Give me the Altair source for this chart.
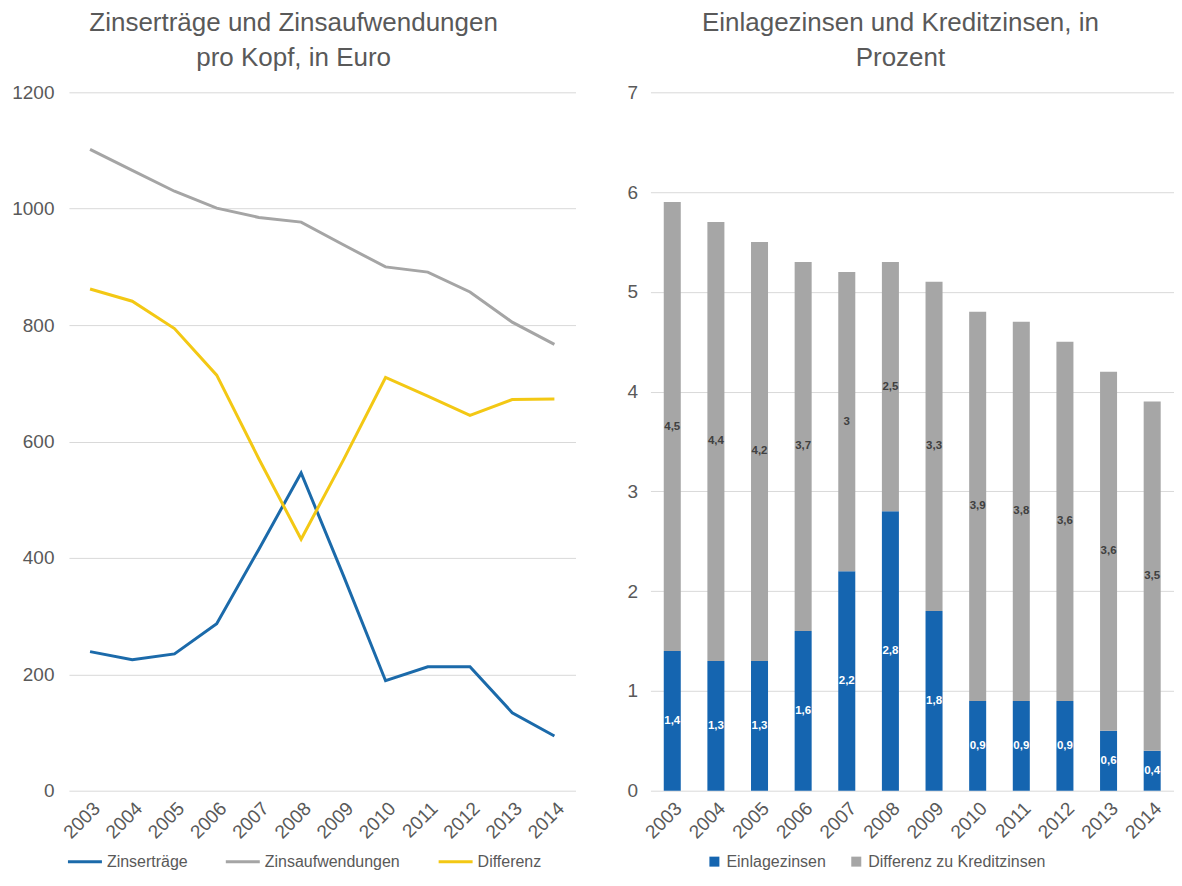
import altair as alt
import pandas as pd

FONT = "Liberation Sans"
TXT = "#595959"

years = ["2003", "2004", "2005", "2006", "2007", "2008", "2009", "2010", "2011", "2012", "2013", "2014"]

# left panel: Euro per head
zinsertraege = [239, 225, 235, 287, 415, 546, 370, 189, 213, 213, 134, 94]
zinsaufwendungen = [1102, 1066, 1030, 1001, 985, 977, 938, 900, 891, 857, 805, 767]
differenz = [862, 841, 794, 714, 570, 432, 568, 710, 678, 645, 672, 673]
line_series = ["Zinserträge", "Zinsaufwendungen", "Differenz"]
line_colors = ["#1B6AAA", "#A5A5A5", "#F3C814"]

# right panel: percent
einlagezinsen = [1.4, 1.3, 1.3, 1.6, 2.2, 2.8, 1.8, 0.9, 0.9, 0.9, 0.6, 0.4]
diff_kredit = [4.5, 4.4, 4.2, 3.7, 3.0, 2.5, 3.3, 3.9, 3.8, 3.6, 3.6, 3.5]
bar_series = ["Einlagezinsen", "Differenz zu Kreditzinsen"]
bar_colors = ["#1565B0", "#A6A6A6"]

rows = []
for name, vals in zip(line_series, [zinsertraege, zinsaufwendungen, differenz]):
    for y, v in zip(years, vals):
        rows.append({"Jahr": y, "Reihe": name, "Wert": v})
df_line = pd.DataFrame(rows)

rows = []
for i, (name, vals) in enumerate(zip(bar_series, [einlagezinsen, diff_kredit])):
    for y, v in zip(years, vals):
        rows.append({"Jahr": y, "Reihe": name, "Wert": v, "ord": i,
                     "Label": f"{v:g}".replace(".", ",")})
df_bar = pd.DataFrame(rows)

x_axis = alt.Axis(title=None, labelAngle=-45, grid=False, labelFontSize=19,
                  labelPadding=8)

left = alt.Chart(df_line).mark_line(strokeWidth=3).encode(
    x=alt.X("Jahr:O", scale=alt.Scale(padding=0.5), axis=x_axis),
    y=alt.Y("Wert:Q", scale=alt.Scale(domain=[0, 1200]),
            axis=alt.Axis(title=None, values=[0, 200, 400, 600, 800, 1000, 1200],
                          format="d", labelPadding=15)),
    color=alt.Color("Reihe:N", sort=line_series,
                    scale=alt.Scale(domain=line_series, range=line_colors),
                    legend=alt.Legend(title=None, orient="none", direction="horizontal",
                                      legendX=8, legendY=762,
                                      symbolType="M-3.4,0H3.4", symbolSize=100,
                                      symbolStrokeWidth=3, labelFontSize=16,
                                      labelLimit=400, labelOffset=14, columnPadding=32)),
).properties(
    width=507, height=699,
    title=alt.TitleParams(text=["Zinserträge und Zinsaufwendungen", "pro Kopf, in Euro"],
                          fontSize=26, lineHeight=35, frame="bounds", offset=12),
)

base = alt.Chart(df_bar).transform_stack(
    stack="Wert", groupby=["Jahr"], as_=["y0", "y1"], sort=[alt.SortField("ord")]
).transform_calculate(mid="(datum.y0 + datum.y1) / 2")

xb = alt.X("Jahr:O", scale=alt.Scale(paddingInner=0.61, paddingOuter=0.305), axis=x_axis)

bars = base.mark_bar().encode(
    x=xb,
    y=alt.Y("y1:Q", scale=alt.Scale(domain=[0, 7]),
            axis=alt.Axis(title=None, values=[0, 1, 2, 3, 4, 5, 6, 7], format="d",
                          labelPadding=13)),
    y2="y0:Q",
    color=alt.Color("Reihe:N", sort=bar_series,
                    scale=alt.Scale(domain=bar_series, range=bar_colors),
                    legend=alt.Legend(title=None, orient="none", direction="horizontal",
                                      legendX=56, legendY=762,
                                      symbolType="square", symbolSize=100,
                                      labelFontSize=16, labelLimit=400,
                                      labelOffset=4, columnPadding=22)),
)

labels = base.mark_text(fontSize=11.5, fontWeight="bold", font=FONT).encode(
    x=xb,
    y=alt.Y("mid:Q"),
    text="Label:N",
    color=alt.condition("datum.ord == 0", alt.value("white"), alt.value("#404040")),
)

right = alt.layer(bars, labels).properties(
    width=524, height=699,
    title=alt.TitleParams(text=["Einlagezinsen und Kreditzinsen, in", "Prozent"],
                          fontSize=26, lineHeight=35, frame="bounds", offset=12),
)

chart = alt.hconcat(left, right, spacing=51).resolve_scale(
    color="independent"
).resolve_legend(color="independent").properties(
    padding={"left": 3, "top": 2, "right": 0, "bottom": 0}
).configure(font=FONT).configure_view(stroke=None).configure_axis(
    labelFont=FONT, labelColor=TXT, labelFontSize=19, domain=False, ticks=False,
    gridColor="#D9D9D9", gridWidth=1,
).configure_legend(labelFont=FONT, labelColor=TXT).configure_title(
    font=FONT, color=TXT, fontWeight="normal", anchor="middle"
)

chart.save("out.html", embed_options={"renderer": "svg", "actions": False})
